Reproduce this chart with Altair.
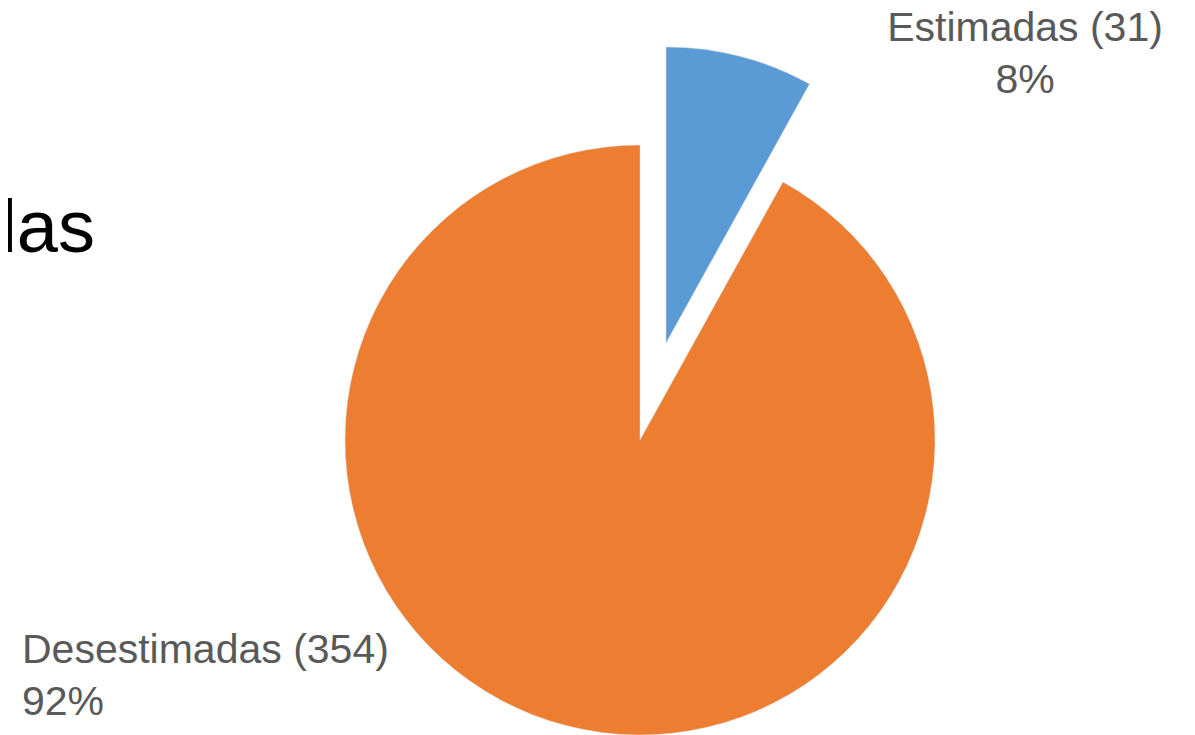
import altair as alt
import pandas as pd

categories = ["Estimadas", "Desestimadas"]
values = [31, 354]
order = [0, 1]
colors = ["#5B9BD5", "#ED7D31"]

df = pd.DataFrame({"category": categories, "value": values, "order": order})

base = (
    alt.Chart(df)
    .transform_joinaggregate(total="sum(value)")
    .transform_window(cum="sum(value)", sort=[alt.SortField("order")], frame=[None, 0])
    .transform_calculate(
        t0="2*PI*(datum.cum - datum.value)/datum.total",
        t1="2*PI*datum.cum/datum.total",
        label="[datum.category + ' (' + datum.value + ')', format(datum.value/datum.total, '.0%')]",
    )
)

color = alt.Color(
    "category:N",
    scale=alt.Scale(domain=categories, range=colors),
    legend=None,
)

def slice_layer(cat, cx, cy, r):
    return (
        base.transform_filter(alt.datum.category == cat)
        .mark_arc(outerRadius=r, stroke="#d9d9d9", strokeOpacity=0.5, strokeWidth=1)
        .encode(
            theta=alt.Theta("t0:Q", scale=None),
            theta2="t1:Q",
            color=color,
            x=alt.value(cx),
            y=alt.value(cy),
        )
    )

orange = slice_layer("Desestimadas", 632, 432, 295)
blue = slice_layer("Estimadas", 658, 335, 296)

label_font = "Liberation Sans"
lab_est = (
    base.transform_filter(alt.datum.category == "Estimadas")
    .mark_text(font=label_font, fontSize=41, color="#595959", align="center",
               baseline="alphabetic", lineHeight=52)
    .encode(text="label:N", x=alt.value(1017), y=alt.value(33))
)
lab_des = (
    base.transform_filter(alt.datum.category == "Desestimadas")
    .mark_text(font=label_font, fontSize=41, color="#595959", align="left",
               baseline="alphabetic", lineHeight=52)
    .encode(text="label:N", x=alt.value(14), y=alt.value(655))
)

title_frag = (
    alt.Chart(pd.DataFrame({"t": ["das"]}))
    .mark_text(font=label_font, fontSize=74, color="#000000", align="right",
               baseline="alphabetic")
    .encode(text="t:N", x=alt.value(87), y=alt.value(244))
)

chart = (
    alt.layer(orange, blue, lab_est, lab_des, title_frag)
    .properties(width=1179, height=727, autosize=alt.AutoSizeParams(type="none"), padding=0)
    .configure_view(stroke=None)
)

chart.save("out.html", embed_options={"renderer": "svg", "actions": False})
